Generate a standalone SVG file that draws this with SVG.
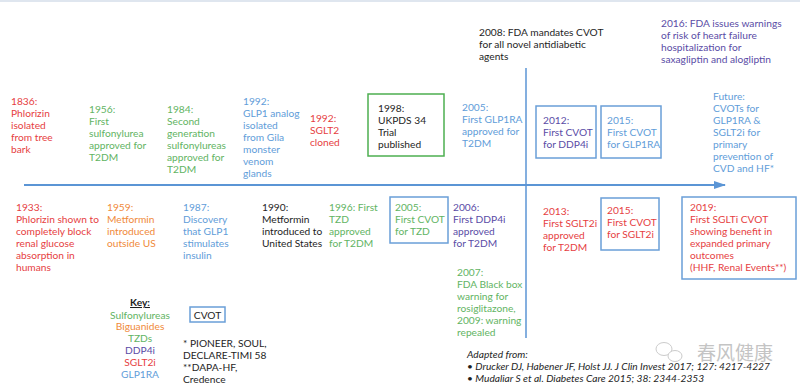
<svg xmlns="http://www.w3.org/2000/svg" width="800" height="390" viewBox="0 0 800 390">
<defs>
<style>
text{font-family:Lato,"Liberation Sans","Noto Sans CJK SC",sans-serif;font-size:10.2px}
.r{fill:#e63e42}.g{fill:#62b463}.o{fill:#f08a3a}.b{fill:#5f9dd9}.p{fill:#5a4ca6}.k{fill:#1e1e1e}
.box{fill:none;stroke:#6a9fd8;stroke-width:1.5}
.gbox{fill:none;stroke:#4daf50;stroke-width:1.5}
.ax{stroke:#5b95d5;fill:none}
.wm{font-family:"Noto Sans CJK SC",sans-serif;font-size:19px;fill:#8a8a8a}
</style>
<marker id="ah" markerWidth="12" markerHeight="8" refX="11" refY="4" orient="auto" markerUnits="userSpaceOnUse">
<path d="M0,0 L12,4 L0,8 Z" fill="#5b95d5"/>
</marker>
</defs>
<rect x="0" y="0" width="800" height="390" fill="#ffffff"/>
<rect x="0" y="0" width="800" height="2" fill="#dfe6ef"/>
<g id="connectors">
<line class="ax" x1="24" y1="185" x2="725" y2="185" stroke-width="2" marker-end="url(#ah)"/>
<line class="ax" x1="526" y1="68" x2="526" y2="338" stroke-width="1.5"/>
</g>
<g id="n1836"><text class="r" x="11" y="105"><tspan x="11">1836:</tspan><tspan x="11" dy="12">Phlorizin</tspan><tspan x="11" dy="12">isolated</tspan><tspan x="11" dy="12">from tree</tspan><tspan x="11" dy="12">bark</tspan></text></g>
<g id="n1956"><text class="g" x="89" y="113"><tspan x="89">1956:</tspan><tspan x="89" dy="12">First</tspan><tspan x="89" dy="12">sulfonylurea</tspan><tspan x="89" dy="12">approved for</tspan><tspan x="89" dy="12">T2DM</tspan></text></g>
<g id="n1984"><text class="g" x="167" y="113"><tspan x="167">1984:</tspan><tspan x="167" dy="12">Second</tspan><tspan x="167" dy="12">generation</tspan><tspan x="167" dy="12">sulfonylureas</tspan><tspan x="167" dy="12">approved for</tspan><tspan x="167" dy="12">T2DM</tspan></text></g>
<g id="n1992a"><text class="b" x="243" y="105"><tspan x="243">1992:</tspan><tspan x="243" dy="12">GLP1 analog</tspan><tspan x="243" dy="12">isolated</tspan><tspan x="243" dy="12">from Gila</tspan><tspan x="243" dy="12">monster</tspan><tspan x="243" dy="12">venom</tspan><tspan x="243" dy="12">glands</tspan></text></g>
<g id="n1992b"><text class="r" x="310" y="122"><tspan x="310">1992:</tspan><tspan x="310" dy="12">SGLT2</tspan><tspan x="310" dy="12">cloned</tspan></text></g>
<g id="n1998"><rect class="gbox" x="368" y="94" width="76" height="62"/><text class="k" x="378" y="112"><tspan x="378">1998:</tspan><tspan x="378" dy="12">UKPDS 34</tspan><tspan x="378" dy="12">Trial</tspan><tspan x="378" dy="12">published</tspan></text></g>
<g id="n2005glp"><text class="b" x="462" y="111"><tspan x="462">2005:</tspan><tspan x="462" dy="12">First GLP1RA</tspan><tspan x="462" dy="12">approved for</tspan><tspan x="462" dy="12">T2DM</tspan></text></g>
<g id="n2008"><text class="k" x="479" y="36"><tspan x="479">2008: FDA mandates CVOT</tspan><tspan x="479" dy="12">for all novel antidiabetic</tspan><tspan x="479" dy="12">agents</tspan></text></g>
<g id="n2016"><text class="p" x="661" y="27"><tspan x="661">2016: FDA issues warnings</tspan><tspan x="661" dy="12">of risk of heart failure</tspan><tspan x="661" dy="12">hospitalization for</tspan><tspan x="661" dy="12">saxagliptin and alogliptin</tspan></text></g>
<g id="n2012"><rect class="box" x="536" y="106" width="60" height="52"/><text class="p" x="543" y="124"><tspan x="543">2012:</tspan><tspan x="543" dy="12">First CVOT</tspan><tspan x="543" dy="12">for DDP4i</tspan></text></g>
<g id="n2015glp"><rect class="box" x="601" y="106" width="60" height="52"/><text class="b" x="607" y="124"><tspan x="607">2015:</tspan><tspan x="607" dy="12">First CVOT</tspan><tspan x="607" dy="12">for GLP1RA</tspan></text></g>
<g id="nfuture"><text class="b" x="713" y="100"><tspan x="713">Future:</tspan><tspan x="713" dy="12">CVOTs for</tspan><tspan x="713" dy="12">GLP1RA &amp;</tspan><tspan x="713" dy="12">SGLT2i for</tspan><tspan x="713" dy="12">primary</tspan><tspan x="713" dy="12">prevention of</tspan><tspan x="713" dy="12">CVD and HF*</tspan></text></g>
<g id="n1933"><text class="r" x="16" y="211"><tspan x="16">1933:</tspan><tspan x="16" dy="12">Phlorizin shown to</tspan><tspan x="16" dy="12">completely block</tspan><tspan x="16" dy="12">renal glucose</tspan><tspan x="16" dy="12">absorption in</tspan><tspan x="16" dy="12">humans</tspan></text></g>
<g id="n1959"><text class="o" x="107" y="211"><tspan x="107">1959:</tspan><tspan x="107" dy="12">Metformin</tspan><tspan x="107" dy="12">introduced</tspan><tspan x="107" dy="12">outside US</tspan></text></g>
<g id="n1987"><text class="b" x="183" y="211"><tspan x="183">1987:</tspan><tspan x="183" dy="12">Discovery</tspan><tspan x="183" dy="12">that GLP1</tspan><tspan x="183" dy="12">stimulates</tspan><tspan x="183" dy="12">insulin</tspan></text></g>
<g id="n1990"><text class="k" x="262" y="211"><tspan x="262">1990:</tspan><tspan x="262" dy="12">Metformin</tspan><tspan x="262" dy="12">introduced to</tspan><tspan x="262" dy="12">United States</tspan></text></g>
<g id="n1996"><text class="g" x="329" y="211"><tspan x="329">1996: First</tspan><tspan x="329" dy="12">TZD</tspan><tspan x="329" dy="12">approved</tspan><tspan x="329" dy="12">for T2DM</tspan></text></g>
<g id="n2005tzd"><rect class="box" x="390" y="197" width="58" height="46"/><text class="g" x="395" y="211"><tspan x="395">2005:</tspan><tspan x="395" dy="12">First CVOT</tspan><tspan x="395" dy="12">for TZD</tspan></text></g>
<g id="n2006"><text class="p" x="453" y="211"><tspan x="453">2006:</tspan><tspan x="453" dy="12">First DDP4i</tspan><tspan x="453" dy="12">approved</tspan><tspan x="453" dy="12">for T2DM</tspan></text></g>
<g id="n2007"><text class="g" x="457" y="276"><tspan x="457">2007:</tspan><tspan x="457" dy="12">FDA Black box</tspan><tspan x="457" dy="12">warning for</tspan><tspan x="457" dy="12">rosiglitazone,</tspan><tspan x="457" dy="12">2009: warning</tspan><tspan x="457" dy="12">repealed</tspan></text></g>
<g id="n2013"><text class="r" x="543" y="215"><tspan x="543">2013:</tspan><tspan x="543" dy="12">First SGLT2i</tspan><tspan x="543" dy="12">approved</tspan><tspan x="543" dy="12">for T2DM</tspan></text></g>
<g id="n2015sglt"><rect class="box" x="601" y="198" width="58" height="52"/><text class="r" x="607" y="214"><tspan x="607">2015:</tspan><tspan x="607" dy="12">First CVOT</tspan><tspan x="607" dy="12">for SGLT2i</tspan></text></g>
<g id="n2019"><rect class="box" x="682" y="197" width="114" height="82"/><text class="r" x="690" y="211"><tspan x="690">2019:</tspan><tspan x="690" dy="12">First SGLTi CVOT</tspan><tspan x="690" dy="12">showing benefit in</tspan><tspan x="690" dy="12">expanded primary</tspan><tspan x="690" dy="12">outcomes</tspan><tspan x="690" dy="12">(HHF, Renal Events**)</tspan></text></g>
<g id="key" text-anchor="middle">
<text class="k" x="140" y="306" font-weight="bold" text-decoration="underline">Key:</text>
<text class="g" x="140" y="319">Sulfonylureas</text>
<text class="o" x="140" y="330">Biguanides</text>
<text class="g" x="140" y="342">TZDs</text>
<text class="p" x="140" y="354">DDP4i</text>
<text class="r" x="140" y="366">SGLT2i</text>
<text class="b" x="140" y="378">GLP1RA</text>
</g>
<g id="keycvot"><rect class="box" x="190" y="307" width="35" height="15"/><text class="k" x="207.5" y="318.5" text-anchor="middle">CVOT</text></g>
<g id="notes"><text class="k" x="183" y="347"><tspan x="183">* PIONEER, SOUL,</tspan><tspan x="183" dy="12">DECLARE-TIMI 58</tspan><tspan x="183" dy="12">**DAPA-HF,</tspan><tspan x="183" dy="12">Credence</tspan></text></g>
<g id="refs"><text class="k" x="467" y="358" font-style="italic"><tspan x="467">Adapted from:</tspan><tspan x="467" dy="12">• Drucker DJ, Habener JF, Holst JJ. J Clin Invest 2017; 127: 4217-4227</tspan><tspan x="467" dy="12">• Mudaliar S et al. Diabetes Care 2015; 38: 2344-2353</tspan></text></g>
<g id="watermark" opacity="0.5">
<ellipse cx="664" cy="349" rx="8" ry="6.5" fill="none" stroke="#9a9a9a" stroke-width="1"/>
<ellipse cx="675" cy="356" rx="7" ry="5.5" fill="#ffffff" stroke="#9a9a9a" stroke-width="1"/>
<text class="wm" x="697" y="360">春风健康</text>
</g>
</svg>
